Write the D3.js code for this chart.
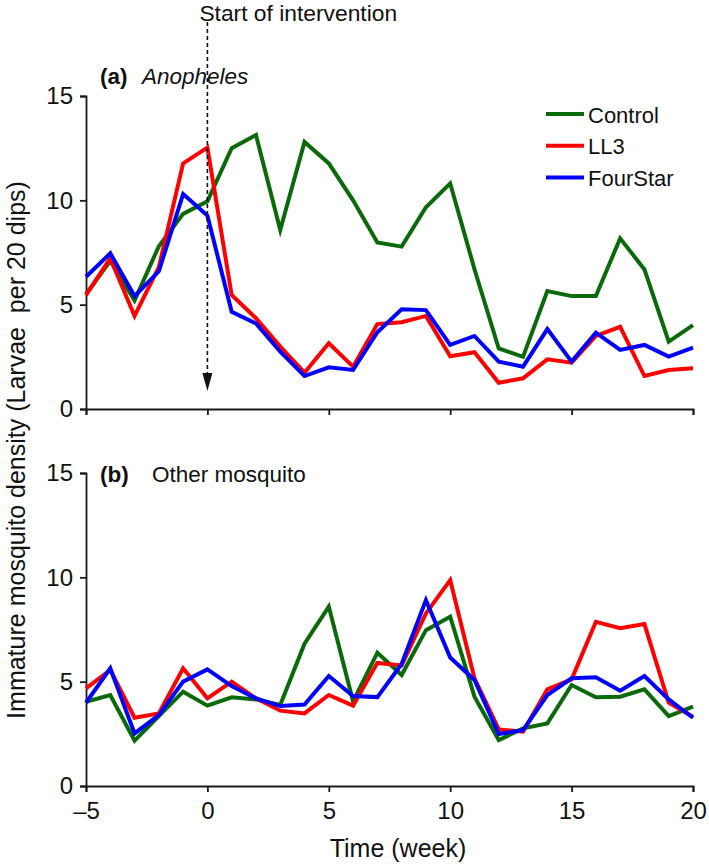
<!DOCTYPE html>
<html>
<head>
<meta charset="utf-8">
<script src="https://cdn.jsdelivr.net/npm/d3@7"></script>
<style>
  html, body { margin: 0; padding: 0; background: #fff; }
  svg { display: block; font-family: "Liberation Sans", Arial, sans-serif; }
</style>
</head>
<body>
<svg id="chart" width="709" height="866"></svg>
<script>
// ---- data ----
const weeks = [-5,-4,-3,-2,-1,0,1,2,3,4,5,6,7,8,9,10,11,12,13,14,15,16,17,18,19,20];
const seriesNames = ["Control", "LL3", "FourStar"];
const seriesColors = ["#0a6a0a", "#ff0000", "#0000ff"];

const controlA  = [5.5, 7.1, 5.2, 7.8, 9.35, 9.95, 12.5, 13.13, 8.58, 12.8, 11.77, 10.0, 7.98, 7.78, 9.67, 10.81, 6.7, 2.9, 2.5, 5.65, 5.41, 5.41, 8.18, 6.69, 3.23, 4.02];
const ll3A      = [5.46, 7.22, 4.46, 6.8, 11.77, 12.53, 5.46, 4.35, 2.99, 1.74, 3.15, 2.03, 4.07, 4.16, 4.46, 2.53, 2.72, 1.26, 1.47, 2.38, 2.22, 3.5, 3.94, 1.58, 1.87, 1.95];
const fourStarA = [6.34, 7.46, 5.41, 6.6, 10.3, 9.27, 4.66, 4.1, 2.75, 1.58, 2.0, 1.87, 3.68, 4.78, 4.74, 3.07, 3.5, 2.27, 2.03, 3.83, 2.27, 3.66, 2.83, 3.07, 2.51, 2.94];

const controlB  = [4.04, 4.36, 2.17, 3.35, 4.52, 3.85, 4.25, 4.15, 3.88, 6.82, 8.6, 4.05, 6.39, 5.32, 7.47, 8.11, 4.28, 2.2, 2.76, 3.0, 4.84, 4.25, 4.28, 4.63, 3.35, 3.8];
const ll3B      = [4.68, 5.56, 3.27, 3.48, 5.64, 4.2, 5.0, 4.2, 3.61, 3.48, 4.36, 3.85, 5.9, 5.78, 8.27, 9.87, 5.16, 2.71, 2.6, 4.63, 5.11, 7.87, 7.56, 7.76, 3.99, 3.32];
const fourStarB = [3.99, 5.64, 2.52, 3.4, 5.0, 5.59, 4.79, 4.2, 3.83, 3.9, 5.27, 4.31, 4.26, 5.85, 8.91, 6.16, 5.08, 2.49, 2.68, 4.36, 5.16, 5.21, 4.57, 5.27, 4.15, 3.27];

const xTicks = [-5, 0, 5, 10, 15, 20];
const yTicks = [0, 5, 10, 15];
const interventionWeek = 0;

// ---- layout ----
const svg = d3.select("#chart");
const x = d3.scaleLinear().domain([-5, 20]).range([86, 693]);
const yA = d3.scaleLinear().domain([0, 15]).range([409, 96]);
const yB = d3.scaleLinear().domain([0, 15]).range([786, 473]);
const fmt = d => d < 0 ? "\u2013" + Math.abs(d) : String(d);

function panel(y, seriesList, showXLabels) {
  const gx = svg.append("g")
    .attr("transform", `translate(0,${y(0)})`)
    .call(d3.axisBottom(x).tickValues(xTicks).tickSizeOuter(0).tickSize(6).tickPadding(10)
      .tickFormat(showXLabels ? fmt : () => ""));
  const gy = svg.append("g")
    .attr("transform", `translate(${x(-5)},0)`)
    .call(d3.axisLeft(y).tickValues(yTicks).tickSizeOuter(0).tickSize(6).tickPadding(7).tickFormat(fmt));
  [gx, gy].forEach(g => {
    g.select(".domain").attr("stroke", "#1a1a1a").attr("stroke-width", 1.8);
    g.selectAll(".tick line").attr("stroke", "#1a1a1a").attr("stroke-width", 1.8);
    g.selectAll(".tick text").attr("fill", "#111").style("font-size", "24px")
      .style("font-family", '"Liberation Sans", Arial, sans-serif');
  });
  const line = d3.line().x((d, i) => x(weeks[i])).y(d => y(d));
  seriesList.forEach((vals, k) => {
    svg.append("path").datum(vals)
      .attr("d", line)
      .attr("fill", "none")
      .attr("stroke", seriesColors[k])
      .attr("stroke-width", 4)
      .attr("stroke-linejoin", "miter");
  });
}

panel(yA, [controlA, ll3A, fourStarA], false);
panel(yB, [controlB, ll3B, fourStarB], true);

// intervention arrow
const xi = x(interventionWeek);
svg.append("line")
  .attr("x1", xi).attr("x2", xi).attr("y1", 22).attr("y2", 376)
  .attr("stroke", "#111").attr("stroke-width", 1.6).attr("stroke-dasharray", "4,3");
svg.append("path")
  .attr("d", `M${xi - 5},${373} L${xi + 5},${373} L${xi},${391} Z`)
  .attr("fill", "#111");
svg.append("text").attr("x", xi - 8).attr("y", 21)
  .style("font-size", "22.8px").attr("fill", "#111")
  .text("Start of intervention");

// panel titles
const ta = svg.append("text").attr("x", 100).attr("y", 84).style("font-size", "22.5px").attr("fill", "#111");
ta.append("tspan").attr("font-weight", "bold").text("(a)");
ta.append("tspan").attr("x", 142).attr("font-style", "italic").text("Anopheles");
const tb = svg.append("text").attr("x", 100).attr("y", 482).style("font-size", "22.5px").attr("fill", "#111");
tb.append("tspan").attr("font-weight", "bold").text("(b)");
tb.append("tspan").attr("x", 152).text("Other mosquito");

// legend
seriesNames.forEach((name, k) => {
  const ly = 114 + k * 31.7;
  svg.append("line").attr("x1", 546).attr("x2", 584).attr("y1", ly).attr("y2", ly)
    .attr("stroke", seriesColors[k]).attr("stroke-width", 4);
  svg.append("text").attr("x", 588).attr("y", ly + 8.5)
    .style("font-size", "22px").attr("fill", "#111").text(name);
});

// axis titles
svg.append("text").attr("x", 398).attr("y", 857).attr("text-anchor", "middle")
  .style("font-size", "25px").attr("fill", "#111").text("Time (week)");
svg.append("text")
  .attr("transform", "translate(25,450) rotate(-90)")
  .attr("text-anchor", "middle")
  .style("font-size", "25px").style("white-space", "pre").attr("fill", "#111")
  .text("Immature mosquito density (Larvae  per 20 dips)");
</script>
</body>
</html>
